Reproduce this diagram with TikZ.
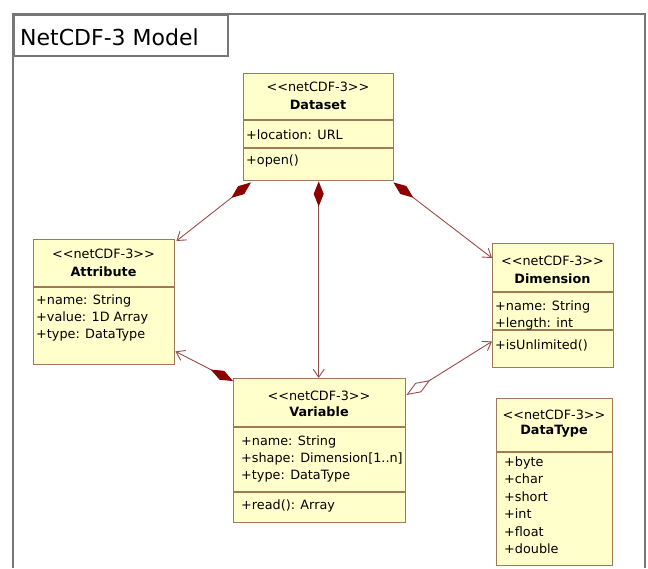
\documentclass[tikz,border=0pt]{standalone}
\usepackage{fontspec}
\setmainfont{DejaVu Sans}
\usetikzlibrary{arrows.meta,calc}
\definecolor{boxfill}{HTML}{FFFFCC}
\definecolor{boxline}{HTML}{A0785A}
\definecolor{conn}{HTML}{9A4A4A}
\definecolor{dkred}{HTML}{8B0000}
\definecolor{framegray}{HTML}{777777}
\begin{document}
\begin{tikzpicture}[x=1pt,y=-1pt,
  cls/.style={draw=boxline, fill=boxfill, line width=1.4pt, anchor=north west, inner sep=0pt},
  txt/.style={anchor=base west, inner sep=0pt, font=\fontsize{12.8}{15}\selectfont},
  ctxt/.style={anchor=base, inner sep=0pt, font=\fontsize{12.8}{15}\selectfont},
  btxt/.style={anchor=base, inner sep=0pt, font=\fontsize{12.8}{15}\selectfont\bfseries},
  sep/.style={draw=boxline, line width=1.4pt},
  comp/.style={draw=conn, line width=0.9pt, {Diamond[length=25pt,width=10pt,fill=dkred,color=dkred]}-{Straight Barb[length=8pt,width=11pt]}},
  aggr/.style={draw=conn, line width=0.9pt, {Diamond[open,length=28pt,width=11pt,fill=white]}-{Straight Barb[length=8pt,width=11pt]}},
]
\useasboundingbox (0,0) rectangle (648,568);
% frame
\draw[framegray, line width=1.6pt] (13,568) -- (13,14) -- (645,14) -- (645,568);
\node[draw=framegray, line width=1.6pt, anchor=north west, minimum width=214, minimum height=41, inner sep=0pt] (title) at (13,14) {};
\node[anchor=base west, inner sep=0pt, font=\fontsize{22}{26}\selectfont] (titletext) at (20,45) {NetCDF-3 Model};

% Dataset
\node[cls, minimum width=150, minimum height=107] (dataset) at (243,73) {};
\draw[sep] (243,120) -- (393,120);
\draw[sep] (243,148) -- (393,148);
\node[ctxt] (dsst) at (318,91) {<{}<netCDF-3>{}>};
\node[btxt] (dsname) at (318,109) {Dataset};
\node[txt] (dsa1) at (246,139) {+location: URL};
\node[txt] (dso1) at (246,164) {+open()};

% Attribute
\node[cls, minimum width=141, minimum height=125] (attribute) at (33,239) {};
\draw[sep] (33,287) -- (174,287);
\node[ctxt] (atst) at (103.5,258) {<{}<netCDF-3>{}>};
\node[btxt] (atname) at (103.5,276) {Attribute};
\node[txt] (ata1) at (36,304) {+name: String};
\node[txt] (ata2) at (36,321) {+value: 1D Array};
\node[txt] (ata3) at (36,338) {+type: DataType};

% Dimension
\node[cls, minimum width=121, minimum height=124] (dimension) at (492,243) {};
\draw[sep] (492,292) -- (613,292);
\draw[sep] (492,330) -- (613,330);
\node[ctxt] (dmst) at (552.5,265) {<{}<netCDF-3>{}>};
\node[btxt] (dmname) at (552.5,283) {Dimension};
\node[txt] (dma1) at (495,310) {+name: String};
\node[txt] (dma2) at (495,327) {+length: int};
\node[txt] (dmo1) at (495,349) {+isUnlimited()};

% Variable
\node[cls, minimum width=172, minimum height=144] (variable) at (233,378) {};
\draw[sep] (233,427) -- (405,427);
\draw[sep] (233,492) -- (405,492);
\node[ctxt] (vrst) at (319,400) {<{}<netCDF-3>{}>};
\node[btxt] (vrname) at (319,416) {Variable};
\node[txt] (vra1) at (241,445) {+name: String};
\node[txt] (vra2) at (241,462) {+shape: Dimension[1..n]};
\node[txt] (vra3) at (241,479) {+type: DataType};
\node[txt] (vro1) at (241,509) {+read(): Array};

% DataType
\node[cls, minimum width=116, minimum height=167] (datatype) at (496,398) {};
\draw[sep] (496,452) -- (612,452);
\node[ctxt] (dtst) at (554,419) {<{}<netCDF-3>{}>};
\node[btxt] (dtname) at (554,434) {DataType};
\node[txt] (dt1) at (504,466) {+byte};
\node[txt] (dt2) at (504,483.5) {+char};
\node[txt] (dt3) at (504,501) {+short};
\node[txt] (dt4) at (504,518.5) {+int};
\node[txt] (dt5) at (504,536) {+float};
\node[txt] (dt6) at (504,553.5) {+double};

% connectors
\draw[comp] ($(dataset.south west)+(8,1)$) -- ($(attribute.north east)+(1,2)$);
\draw[comp] (dataset.south) -- (dataset.south |- variable.north);
\draw[comp] ($(dataset.south east)+(-1,1)$) -- ($(dimension.north west)+(0,15)$);
\draw[comp] ($(variable.north west)+(0,3)$) -- ($(attribute.south east)+(0,-14)$);
\draw[aggr] ($(variable.north east)+(0,17)$) -- ($(dimension.south west)+(0,-27)$);
\end{tikzpicture}
\end{document}
